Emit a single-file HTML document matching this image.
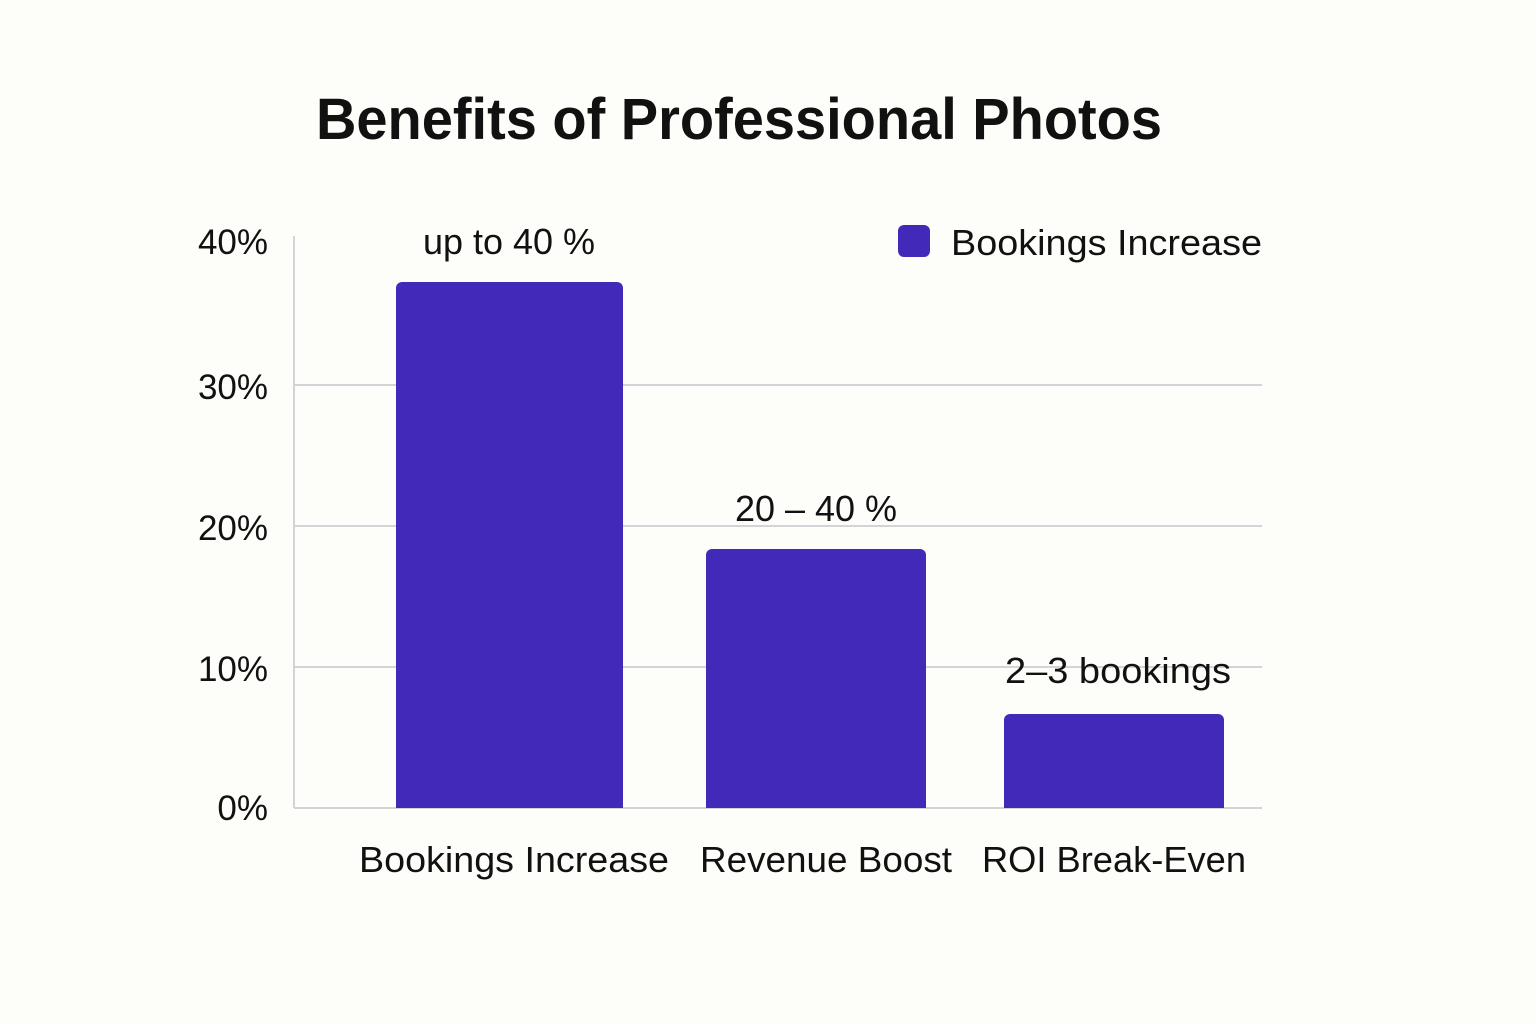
<!DOCTYPE html>
<html><head><meta charset="utf-8"><style>
html,body{margin:0;padding:0;background:#fdfdf9;}
svg{display:block;}
text{font-family:"Liberation Sans","DejaVu Sans",sans-serif;fill:#111;}
</style></head><body>
<svg width="1536" height="1024" viewBox="0 0 1536 1024">
<rect width="1536" height="1024" fill="#fdfdf9"/>
<text x="739" y="139" font-size="58" font-weight="600" text-anchor="middle" textLength="846" lengthAdjust="spacingAndGlyphs" fill="#111">Benefits of Professional Photos</text>
<g stroke="#d4d4d8" stroke-width="2">
<line x1="294" y1="385" x2="1262" y2="385"/>
<line x1="294" y1="526" x2="1262" y2="526"/>
<line x1="294" y1="667" x2="1262" y2="667"/>
<line x1="294" y1="808" x2="1262" y2="808"/>
<line x1="294" y1="236" x2="294" y2="808"/>
</g>
<g font-size="35" text-anchor="end">
<text x="268" y="254">40%</text>
<text x="268" y="399">30%</text>
<text x="268" y="540">20%</text>
<text x="268" y="681">10%</text>
<text x="268" y="820">0%</text>
</g>
<g fill="#4329b8">
<path d="M396 808V288a6 6 0 0 1 6-6H617a6 6 0 0 1 6 6V808Z"/>
<path d="M706 808V555a6 6 0 0 1 6-6H920a6 6 0 0 1 6 6V808Z"/>
<path d="M1004 808V720a6 6 0 0 1 6-6H1218a6 6 0 0 1 6 6V808Z"/>
</g>
<g font-size="36" text-anchor="middle">
<text x="509" y="254">up to 40 %</text>
<text x="816" y="521">20 – 40 %</text>
<text x="1118" y="683" textLength="226" lengthAdjust="spacingAndGlyphs">2–3 bookings</text>
<text x="514" y="872" textLength="310" lengthAdjust="spacingAndGlyphs">Bookings Increase</text>
<text x="826" y="872" textLength="252" lengthAdjust="spacingAndGlyphs">Revenue Boost</text>
<text x="1114" y="872" textLength="264" lengthAdjust="spacingAndGlyphs">ROI Break-Even</text>
</g>
<rect x="898" y="225" width="32" height="32" rx="6" fill="#4329b8"/>
<text x="951" y="255" font-size="36" textLength="311" lengthAdjust="spacingAndGlyphs">Bookings Increase</text>
</svg>
</body></html>
